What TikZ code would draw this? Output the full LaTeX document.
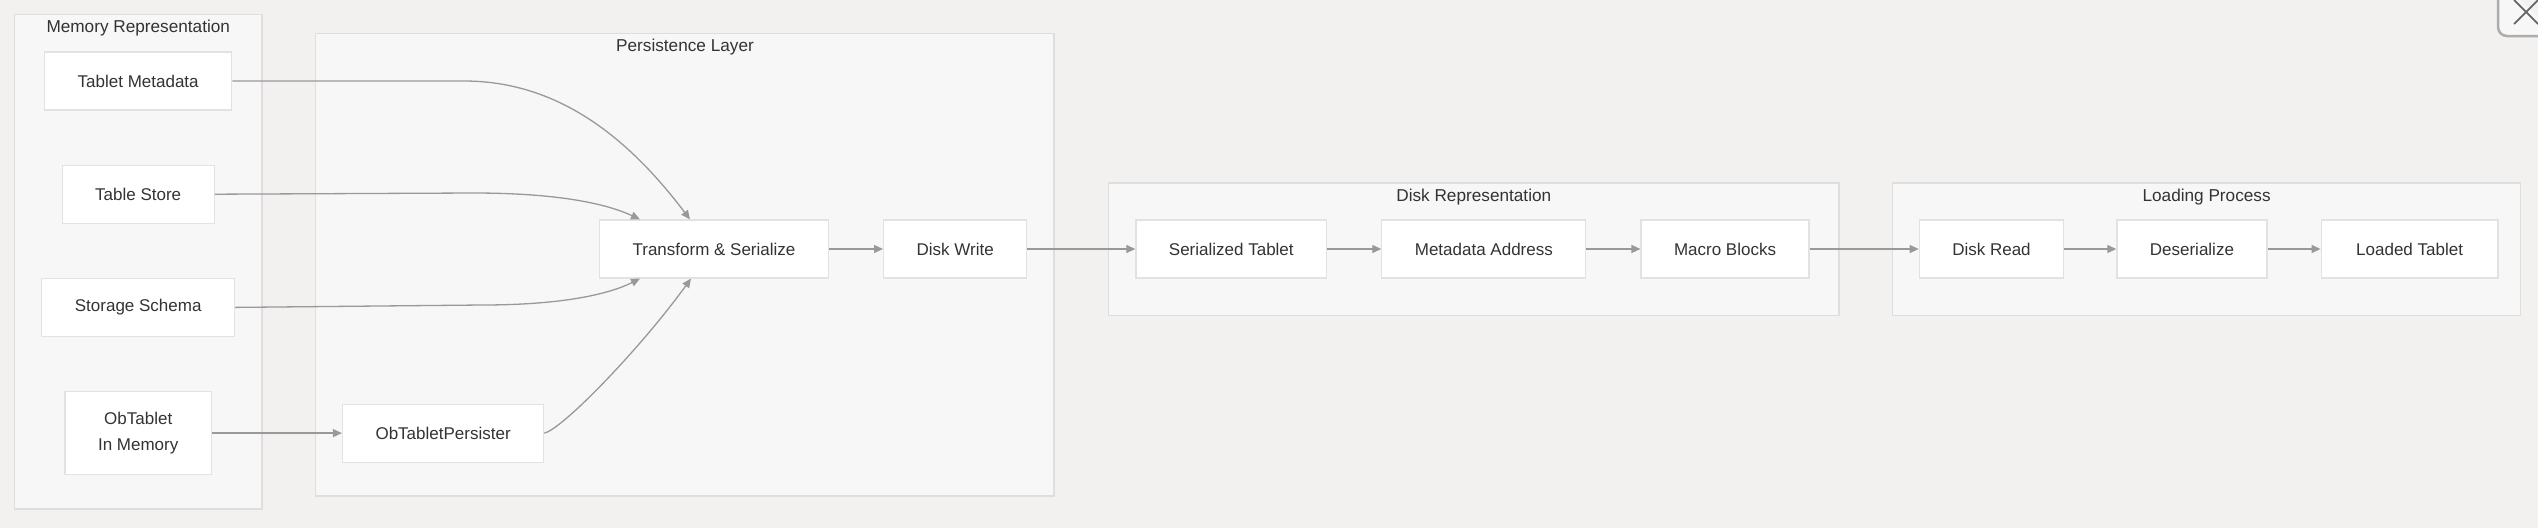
\documentclass[tikz,border=0pt]{standalone}
\usepackage{fontspec}
\setmainfont{Liberation Sans}
\usetikzlibrary{arrows.meta, positioning, calc}
\definecolor{pagebg}{RGB}{242,241,239}
\definecolor{groupfill}{RGB}{247,247,247}
\definecolor{groupline}{RGB}{222,222,222}
\definecolor{boxline}{RGB}{226,226,226}
\definecolor{textdark}{RGB}{51,51,51}
\definecolor{linkgray}{RGB}{153,153,153}

\begin{document}
\begin{tikzpicture}[
    x=1pt, y=-1pt,
    node distance=54pt,
    box/.style={draw=boxline, line width=1.2pt, fill=white, minimum height=58pt, inner xsep=33pt, inner ysep=4pt, align=center, text=textdark, font=\fontsize{17}{26}\selectfont},
    group/.style={draw=groupline, line width=1.2pt, fill=groupfill},
    grouptitle/.style={text=textdark, font=\fontsize{17.2}{20}\selectfont},
    arrow/.style={-{Triangle[length=9pt, width=8pt]}, draw=linkgray, line width=1.3pt}
]
% canvas
\fill[pagebg] (0,0) rectangle (2538,528);
\useasboundingbox (0,0) rectangle (2538,528);

% groups
\draw[group] (14.6,14.3) rectangle (262,509);
\node[grouptitle] (memtitle) at (138.3,28.5) {Memory Representation};
\draw[group] (315.7,33.7) rectangle (1054,496);
\node[grouptitle] (perstitle) at (685,47.5) {Persistence Layer};
\draw[group] (1108.6,183) rectangle (1839,315.5);
\node[grouptitle] (disktitle) at (1473.8,197) {Disk Representation};
\draw[group] (1892.5,183) rectangle (2520.8,315.5);
\node[grouptitle] (loadtitle) at (2206.6,197) {Loading Process};

% memory side
\node[box] (tabletmeta) at (138.2,81) {Tablet Metadata};
\node[box, below=54pt of tabletmeta] (tablestore) {Table Store};
\node[box, below=54pt of tablestore] (schema) {Storage Schema};
\node[box, below=54pt of schema, minimum height=83pt] (obtablet) {ObTablet\\In Memory};

% persistence
\node[box, right=130pt of obtablet] (persister) {ObTabletPersister};
\node[box] (transform) at (714,249) {Transform \& Serialize};
\node[box, right=of transform] (diskwrite) {Disk Write};

% disk and loading
\node[box, right=108pt of diskwrite] (serialized) {Serialized Tablet};
\node[box, right=of serialized] (metaaddr) {Metadata Address};
\node[box, right=of metaaddr] (macro) {Macro Blocks};
\node[box, right=109pt of macro] (diskread) {Disk Read};
\node[box, right=52pt of diskread] (deser) {Deserialize};
\node[box, right=53pt of deser, inner xsep=35pt] (loaded) {Loaded Tablet};

% links
\draw[arrow] (tabletmeta.east) -- (464,81) .. controls (560,81) and (630,140) .. ([xshift=-24pt]transform.north);
\draw[arrow] (tablestore.east) -- (473,193) .. controls (555,193) and (605,203) .. ([xshift=-74pt]transform.north);
\draw[arrow] (schema.east) -- (482,305) .. controls (555,305) and (605,296) .. ([xshift=-74pt]transform.south);
\draw[arrow] (persister.east) .. controls (562,429.5) and (640,349) .. ([xshift=-23pt]transform.south);
\draw[arrow] (obtablet) -- (persister);
\draw[arrow] (transform) -- (diskwrite);
\draw[arrow] (diskwrite) -- (serialized);
\draw[arrow] (serialized) -- (metaaddr);
\draw[arrow] (metaaddr) -- (macro);
\draw[arrow] (macro) -- (diskread);
\draw[arrow] (diskread) -- (deser);
\draw[arrow] (deser) -- (loaded);

% close button
\draw[draw=gray!65, fill=groupfill, line width=2.5pt, rounded corners=9pt] (2560,36) -- (2498,36) -- (2498,-20);
\draw[draw=gray!80!black, line width=1.8pt] (2514,0) -- (2538,24) (2514,24) -- (2538,0);
\end{tikzpicture}
\end{document}
